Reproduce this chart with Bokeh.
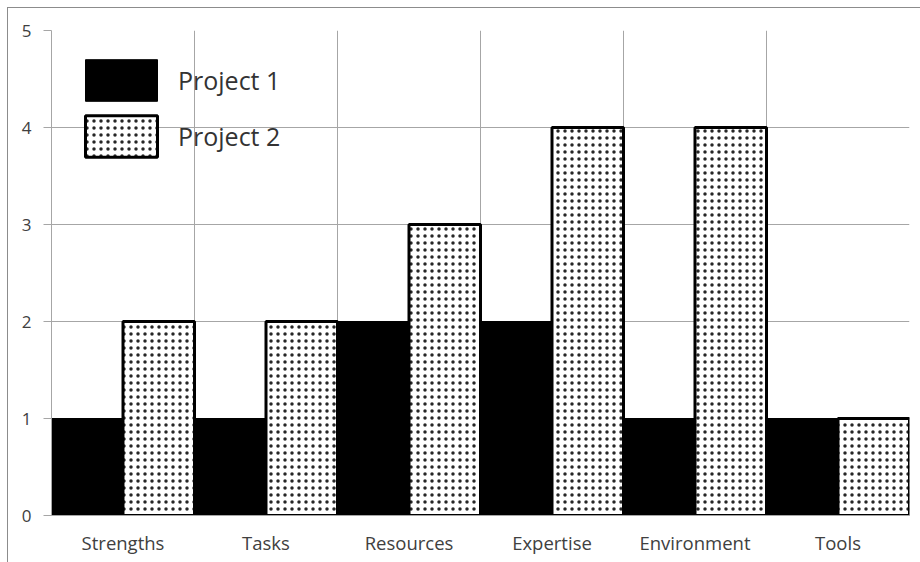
from bokeh.plotting import figure
from bokeh.models import ColumnDataSource, Range1d, FixedTicker, Legend, LegendItem
from bokeh.embed import file_html
from bokeh.resources import INLINE

categories = ["Strengths", "Tasks", "Resources", "Expertise", "Environment", "Tools"]
project1 = [1, 1, 2, 2, 1, 1]
project2 = [2, 2, 3, 4, 4, 1]
y_ticks = [0, 1, 2, 3, 4, 5]

idx = list(range(len(categories)))
src1 = ColumnDataSource(dict(x=[i + 0.25 for i in idx], top=project1))
src2 = ColumnDataSource(dict(x=[i + 0.75 for i in idx], top=project2))

FONT = "Open Sans"
GRID = "#a6a6a6"

p = figure(width=913, height=555, output_backend="svg", toolbar_location=None,
           x_range=Range1d(0, len(categories)), y_range=Range1d(0, 5),
           min_border_left=43, min_border_right=12, min_border_top=22, min_border_bottom=48)
p.styles = {"border-left": "1px solid #8c8c8c", "border-top": "1px solid #8c8c8c",
            "margin-left": "7px", "margin-top": "7px"}
p.outline_line_color = None
p.background_fill_color = "white"
p.border_fill_color = "white"

r1 = p.vbar(x="x", top="top", width=0.5, bottom=0, source=src1,
            fill_color="black", line_color="black", line_width=1)
r2 = p.vbar(x="x", top="top", width=0.5, bottom=0, source=src2,
            fill_color="white", line_color="black", line_width=3,
            hatch_pattern="dot", hatch_color="black", hatch_scale=7, hatch_weight=0.7,
            hatch_alpha=0.85)

# grids
p.xgrid.ticker = FixedTicker(ticks=list(range(len(categories) + 1)))
p.xgrid.grid_line_color = GRID
p.ygrid.ticker = FixedTicker(ticks=y_ticks)
p.ygrid.grid_line_color = GRID
for g in (p.xgrid, p.ygrid):
    g.level = "underlay"

# x axis
xa = p.xaxis[0]
xa.ticker = FixedTicker(ticks=[i + 0.5 for i in idx])
xa.major_label_overrides = {i + 0.5: c for i, c in zip(idx, categories)}
xa.major_tick_line_color = None
xa.minor_tick_line_color = None
xa.axis_line_color = GRID
xa.major_label_text_font = FONT
xa.major_label_text_font_size = "18.5px"
xa.major_label_text_color = "#404040"
xa.major_label_standoff = 8

# y axis
ya = p.yaxis[0]
ya.ticker = FixedTicker(ticks=y_ticks)
ya.major_tick_out = 8
ya.major_tick_in = 0
ya.major_tick_line_color = GRID
ya.minor_tick_line_color = None
ya.axis_line_color = GRID
ya.major_label_text_font = FONT
ya.major_label_text_font_size = "17px"
ya.major_label_text_color = "#404040"
ya.major_label_standoff = 12

legend = Legend(items=[LegendItem(label="Project 1", renderers=[r1]),
                       LegendItem(label="Project 2", renderers=[r2])],
                location=(25, 353), padding=0, margin=0, spacing=4,
                glyph_width=90, glyph_height=52, label_standoff=12,
                label_text_font=FONT, label_text_font_size="25px",
                label_text_color="#333333", border_line_color=None,
                background_fill_alpha=0)
p.add_layout(legend)

open("out.html", "w").write(file_html(p, INLINE))
